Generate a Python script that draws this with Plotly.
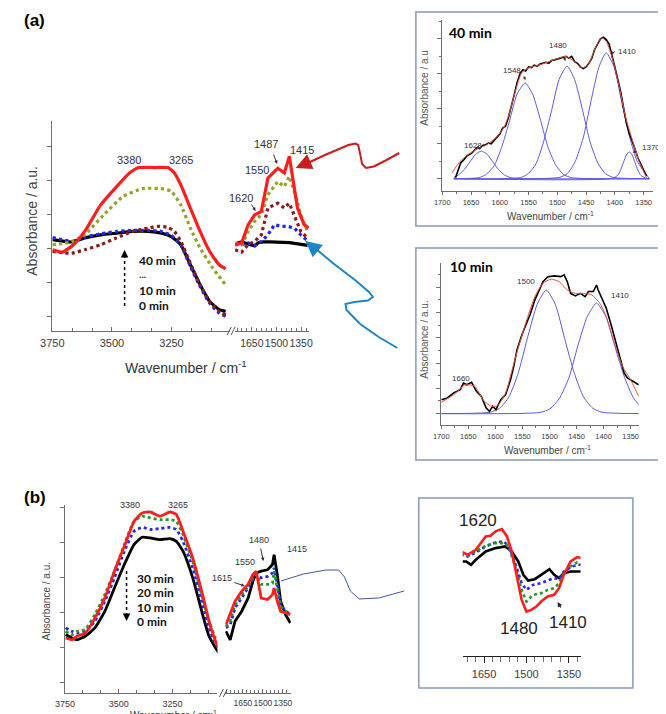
import plotly.graph_objects as go

W, H = 666, 714
def X(p): return p / W
def Y(p): return 1 - p / H

# ================= DATA =================
# ---- panel (a), high wavenumber segment ----
a_red_wn = [3749,3708,3661,3614,3547,3480,3426,3386,3319,3265,3238,3211,3171,3130,3090,3050,3023]
a_red_y  = [2.39,2.32,2.54,2.93,3.71,4.25,4.65,4.81,4.81,4.81,4.65,4.30,3.62,2.93,2.34,1.95,1.83]
a_olive_wn = [3749,3668,3614,3534,3453,3372,3292,3251,3211,3171,3130,3077,3023]
a_olive_y  = [2.54,2.62,2.83,3.42,3.96,4.19,4.19,4.11,3.71,3.03,2.44,1.85,1.36]
a_maroon_wn = [3749,3668,3614,3547,3480,3413,3346,3306,3265,3238,3211,3171,3130,3090,3050,3023]
a_maroon_y  = [2.34,2.29,2.39,2.54,2.74,2.93,3.03,3.08,3.05,2.93,2.64,2.00,1.36,0.87,0.58,0.48]
a_blue_wn = [3749,3668,3614,3547,3480,3413,3346,3292,3251,3211,3171,3130,3090,3050,3023]
a_blue_y  = [2.75,2.64,2.76,2.86,2.93,2.96,2.96,2.93,2.81,2.54,1.90,1.31,0.82,0.53,0.43]
a_black_wn = [3749,3668,3614,3547,3480,3413,3346,3292,3251,3211,3171,3130,3090,3050,3023]
a_black_y  = [2.69,2.62,2.74,2.83,2.88,2.93,2.93,2.88,2.78,2.54,1.95,1.36,0.87,0.63,0.58]

# ---- panel (a), low wavenumber segment ----
a2_red_wn = [1752,1712,1672,1632,1592,1552,1492,1452,1422,1402,1372,1332,1305]
a2_red_y  = [2.54,2.59,3.13,3.42,3.52,4.50,4.79,4.65,5.14,4.50,3.62,3.13,3.03]
a2_olive_wn = [1752,1712,1672,1632,1592,1552,1492,1452,1422,1392,1352,1312]
a2_olive_y  = [2.59,2.54,2.93,3.23,3.42,4.01,4.40,4.25,4.55,4.11,3.42,2.93]
a2_maroon_wn = [1752,1712,1672,1632,1592,1552,1492,1452,1422,1392,1352,1312]
a2_maroon_y  = [2.39,2.32,2.54,2.64,2.83,3.62,3.76,3.62,3.76,3.42,2.93,2.74]
a2_blue_wn = [1752,1712,1672,1632,1592,1552,1512,1472,1432,1392,1352,1312]
a2_blue_y  = [2.54,2.54,2.59,2.52,2.64,2.83,3.13,3.08,3.08,3.03,2.83,2.66]
a2_black_wn = [1752,1732,1712,1680,1650,1632,1610,1580,1540,1500,1460,1420,1380,1340,1310]
a2_black_y  = [2.54,2.60,2.62,2.58,2.52,2.50,2.60,2.62,2.62,2.62,2.60,2.60,2.57,2.55,2.52]

# ---- inset 40 min ----
i1_fit_wn = [1683,1669,1655,1641,1624,1607,1593,1584,1573,1562,1550,1528,1505,1485,1471,1457,1446,1434,1423,1415,1403,1392,1381,1369,1358,1345]
i1_fit_y  = [0.17,0.50,0.69,0.84,0.96,1.17,1.46,1.84,2.50,3.03,3.17,3.27,3.41,3.50,3.36,3.17,3.27,3.74,4.03,3.93,3.36,2.60,1.74,1.08,0.50,0.03]
i1_data_wn = [1677,1672,1668,1662,1657,1650,1645,1640,1635,1630,1625,1620,1615,1610,1605,1600,1595,1590,1585,1580,1575,1570,1565,1560,1555,1550,1545,1540,1535,1530,1525,1520,1515,1510,1505,1500,1495,1490,1485,1480,1475,1470,1465,1460,1455,1450,1445,1440,1435,1430,1425,1420,1415,1410,1405,1400,1395,1390,1385,1380,1375,1370,1365,1360,1355,1350,1345]
i1_data_y  = [0.03,0.25,0.45,0.55,0.66,0.72,0.80,0.88,0.86,0.95,0.97,1.02,1.00,1.10,1.20,1.28,1.45,1.50,1.75,2.05,2.40,2.75,3.00,3.12,3.08,3.20,3.18,3.25,3.22,3.28,3.30,3.33,3.30,3.38,3.40,3.42,3.45,3.48,3.50,3.45,3.50,3.35,3.30,3.20,3.15,3.20,3.30,3.45,3.70,3.85,4.00,4.05,3.98,3.85,3.55,3.20,2.85,2.50,2.05,1.60,1.30,1.10,0.85,0.60,0.40,0.25,0.08]
i1_c1628_wn = [1680,1672,1662,1652,1642,1632,1622,1612,1602,1592,1582,1572,1340]
i1_c1628_y  = [0.04,0.11,0.26,0.48,0.70,0.79,0.70,0.48,0.26,0.11,0.035,0.01,0.0]
i1_c1548_wn = [1680,1637,1624,1610,1597,1583,1570,1556,1543,1529,1516,1502,1489,1475,1340]
i1_c1548_y  = [0.0,0.03,0.12,0.37,0.89,1.66,2.42,2.74,2.42,1.66,0.89,0.37,0.12,0.03,0.0]
i1_c1480_wn = [1680,1564,1551,1537,1524,1510,1497,1483,1470,1456,1443,1429,1416,1402,1340]
i1_c1480_y  = [0.0,0.035,0.14,0.43,1.05,1.95,2.84,3.22,2.84,1.95,1.05,0.43,0.14,0.035,0.0]
i1_c1410_wn = [1680,1496,1482,1469,1455,1442,1428,1415,1401,1388,1374,1361,1347,1340]
i1_c1410_y  = [0.0,0.04,0.16,0.49,1.17,2.18,3.18,3.60,3.18,2.18,1.17,0.49,0.16,0.0]
i1_c1370_wn = [1680,1405,1395,1390,1385,1380,1375,1370,1365,1360,1355,1345,1340]
i1_c1370_y  = [0.0,0.01,0.10,0.25,0.47,0.68,0.77,0.68,0.47,0.25,0.10,0.01,0.0]

# ---- inset 10 min ----
i2_fit_wn = [1700,1677,1656,1638,1623,1608,1596,1581,1569,1557,1542,1527,1512,1497,1482,1467,1452,1437,1422,1407,1395,1380,1365,1350,1335,1328]
i2_fit_y  = [0.45,0.75,1.14,1.08,0.55,0.29,0.32,0.82,1.74,2.66,3.71,4.63,5.16,5.32,5.22,4.89,4.76,4.76,4.70,4.37,3.84,2.79,1.87,1.34,0.68,0.50]
i2_data_wn = [1700,1689,1677,1665,1659,1653,1644,1635,1626,1617,1611,1605,1599,1590,1581,1572,1566,1560,1551,1545,1536,1527,1518,1512,1503,1491,1479,1473,1467,1461,1452,1443,1434,1428,1419,1413,1410,1401,1395,1386,1380,1371,1362,1356,1350,1341,1335]
i2_data_y  = [0.55,0.62,0.82,0.95,1.21,1.14,1.24,0.88,0.68,0.22,0.09,0.29,0.16,0.55,0.75,1.34,1.87,2.53,3.12,3.45,3.91,4.50,4.96,5.22,5.42,5.45,5.42,5.49,5.22,4.76,4.66,4.76,4.63,4.83,4.83,5.09,4.89,4.43,4.17,3.51,3.05,2.39,1.61,1.41,1.34,1.21,1.14]
i2_c1500_wn = [1700,1610,1592,1575,1558,1541,1523,1506,1489,1472,1454,1437,1420,1403,1330]
i2_c1500_y  = [0.0,0.054,0.215,0.66,1.59,2.97,4.31,4.89,4.31,2.97,1.59,0.66,0.215,0.054,0.0]
i2_c1410_wn = [1700,1517,1499,1482,1464,1448,1430,1413,1396,1379,1361,1344,1330]
i2_c1410_y  = [0.0,0.048,0.19,0.59,1.42,2.65,3.85,4.37,3.85,2.65,1.42,0.59,0.26]

# ---- panel (b), high wavenumber segment ----
b_wn = [3747,3717,3694,3656,3611,3565,3520,3474,3429,3391,3353,3308,3262,3232,3201,3156,3110,3080,3050,3035]
b_red_y   = [1.57,1.52,1.62,1.71,2.14,2.71,3.48,4.19,4.90,5.14,5.17,5.05,5.17,5.10,4.62,3.86,2.81,2.05,1.48,1.29]
b_green_y = [1.76,1.67,1.76,1.81,2.24,2.81,3.48,4.24,4.90,5.05,5.00,4.95,4.95,4.90,4.52,3.76,2.71,2.05,1.57,1.48]
b_blue_y  = [1.86,1.76,1.71,1.76,2.05,2.62,3.29,4.05,4.62,4.73,4.67,4.70,4.73,4.67,4.33,3.57,2.52,1.86,1.38,1.29]
b_black_y = [1.67,1.57,1.52,1.62,1.86,2.33,3.00,3.67,4.24,4.45,4.43,4.38,4.41,4.33,4.05,3.29,2.24,1.62,1.29,1.14]

# ---- panel (b), low wavenumber segment ----
b2_wn = [1777,1745,1709,1660,1611,1575,1550,1513,1465,1428,1416,1392,1367,1330,1294]
b2_red_y   = [1.95,2.24,2.62,2.90,3.10,3.38,3.48,2.71,2.67,2.81,3.00,2.62,2.33,2.29,2.24]
b2_green_y = [1.90,2.05,2.52,2.81,3.05,3.29,3.40,3.10,3.10,3.14,3.48,3.00,2.48,2.33,2.29]
b2_blue_y  = [1.86,1.95,2.43,2.71,3.00,3.24,3.37,3.29,3.33,3.43,3.57,3.10,2.52,2.33,2.26]
b2_black_y = [1.76,1.52,2.05,2.33,2.71,3.19,3.43,3.48,3.52,3.67,3.95,3.38,2.62,2.24,2.00]

# ---- inset of panel (b) ----
i3_red_wn = [1731,1708,1679,1644,1627,1609,1587,1569,1552,1535,1517,1500,1483,1465,1448,1425,1402,1385,1368,1344,1321,1309]
i3_red_y  = [3.25,3.15,3.30,3.70,3.72,3.85,3.92,3.70,3.25,2.50,1.80,1.45,1.50,1.60,1.75,1.90,1.95,2.15,2.55,2.95,3.08,3.05]
i3_green_wn = [1731,1708,1679,1644,1609,1580,1563,1540,1517,1500,1477,1448,1425,1402,1385,1368,1344,1321,1309]
i3_green_y  = [3.15,3.12,3.25,3.42,3.50,3.50,3.40,2.80,2.10,1.75,1.95,2.00,2.10,2.15,2.30,2.60,2.80,2.92,2.90]
i3_blue_wn = [1731,1708,1679,1644,1609,1580,1563,1540,1517,1500,1477,1448,1425,1402,1385,1368,1344,1321,1309]
i3_blue_y  = [3.20,3.10,3.22,3.40,3.52,3.55,3.40,2.90,2.30,2.10,2.25,2.30,2.38,2.45,2.42,2.65,2.78,2.85,2.85]
i3_black_wn = [1731,1713,1696,1679,1644,1609,1575,1552,1529,1511,1494,1471,1448,1419,1402,1385,1368,1344,1321,1309]
i3_black_y  = [2.95,2.95,2.85,3.00,3.25,3.35,3.40,3.25,2.95,2.55,2.38,2.42,2.55,2.72,2.55,2.45,2.60,2.65,2.65,2.65]

# ================= STYLES =================
RED = "#FF1E1E"; OLIVE = "#97A22E"; MAROON = "#8E1B1B"; BLUE = "#2626E6"; BLACK = "#000000"
GREEN = "#1F9A2A"; COMP = "#5A5AE6"; FITRED = "#E8503A"
AX = "#6E6E6E"
FONT = "Liberation Sans"

fig = go.Figure()

def line(x, y, xa, ya, color, width, dash="solid", shape="spline", smooth=0.6):
    fig.add_trace(go.Scatter(x=x, y=y, xaxis=xa, yaxis=ya, mode="lines",
                             line=dict(color=color, width=width, dash=dash, shape=shape,
                                       smoothing=smooth if shape == "spline" else None),
                             showlegend=False, hoverinfo="skip"))

# panel (a)
for xa, pairs in (("x", [(a_black_wn, a_black_y, BLACK, "solid"), (a_blue_wn, a_blue_y, BLUE, "dot"),
                          (a_maroon_wn, a_maroon_y, MAROON, "dot"), (a_olive_wn, a_olive_y, OLIVE, "dot"),
                          (a_red_wn, a_red_y, RED, "solid")]),
                  ("x2", [(a2_black_wn, a2_black_y, BLACK, "solid"), (a2_blue_wn, a2_blue_y, BLUE, "dot"),
                          (a2_maroon_wn, a2_maroon_y, MAROON, "dot"), (a2_olive_wn, a2_olive_y, OLIVE, "dot"),
                          (a2_red_wn, a2_red_y, RED, "solid")])):
    for xs, ys, c, d in pairs:
        line(xs, ys, xa, "y", c, 3.2, d, shape="linear" if xa == "x2" else "spline", smooth=0.5)

# inset 1
for xs, ys in ((i1_c1628_wn, i1_c1628_y), (i1_c1548_wn, i1_c1548_y), (i1_c1480_wn, i1_c1480_y),
               (i1_c1410_wn, i1_c1410_y), (i1_c1370_wn, i1_c1370_y)):
    line(xs, ys, "x3", "y3", COMP, 1.0)
line(i1_data_wn, i1_data_y, "x3", "y3", BLACK, 1.6, shape="linear")
line(i1_fit_wn, i1_fit_y, "x3", "y3", FITRED, 1.0)

# inset 2
for xs, ys in ((i2_c1500_wn, i2_c1500_y), (i2_c1410_wn, i2_c1410_y)):
    line(xs, ys, "x4", "y4", COMP, 1.0)
line(i2_data_wn, i2_data_y, "x4", "y4", BLACK, 1.6, shape="linear")
line(i2_fit_wn, i2_fit_y, "x4", "y4", FITRED, 1.0)

# panel (b)
for ys, c, d in ((b_black_y, BLACK, "solid"), (b_blue_y, BLUE, "dot"), (b_green_y, GREEN, "dot"), (b_red_y, RED, "solid")):
    line(b_wn, ys, "x5", "y5", c, 2.8, d, smooth=0.5)
for ys, c, d in ((b2_black_y, BLACK, "solid"), (b2_blue_y, BLUE, "dot"), (b2_green_y, GREEN, "dot"), (b2_red_y, RED, "solid")):
    line(b2_wn, ys, "x6", "y5", c, 2.8, d, shape="linear")

# inset 3
for xs, ys, c, d in ((i3_black_wn, i3_black_y, BLACK, "solid"), (i3_blue_wn, i3_blue_y, BLUE, "dot"),
                     (i3_green_wn, i3_green_y, GREEN, "dot"), (i3_red_wn, i3_red_y, RED, "solid")):
    line(xs, ys, "x7", "y7", c, 2.6, d, shape="linear")

# ================= AXES =================
def xax(dom, rng, anchor, tickvals, size, minor_dt, tick0, ticks="inside", showlabels=True, ticklen=4, standoff=2):
    return dict(domain=[X(dom[0]), X(dom[1])], range=rng, anchor=anchor, showline=True, linecolor=AX,
                linewidth=1, ticks=ticks, ticklen=ticklen, tickcolor=AX, tickvals=tickvals,
                ticktext=[str(v) for v in tickvals], showticklabels=showlabels, tickangle=0,
                tickfont=dict(family=FONT, size=size, color="#3A3A3A"), showgrid=False, zeroline=False,
                minor=dict(ticks=ticks, ticklen=max(ticklen - 1, 2), tickcolor=AX, dtick=minor_dt, tick0=tick0,
                           showgrid=False),
                ticklabelstandoff=standoff)

def yax(dom, rng, anchor, tick0, dtick, minor_dt=None, visible=True):
    d = dict(domain=[Y(dom[1]), Y(dom[0])], range=rng, anchor=anchor, showline=visible, linecolor=AX,
             linewidth=1, ticks="outside" if visible else "", ticklen=4, tickcolor=AX, tick0=tick0,
             dtick=dtick, showticklabels=False, showgrid=False, zeroline=False, visible=visible)
    if minor_dt:
        d["minor"] = dict(ticks="outside", ticklen=2, tickcolor=AX, dtick=minor_dt, tick0=tick0, showgrid=False)
    return d

fig.update_layout(
    xaxis=xax((33, 215), [3750, 3004], "y", [3750, 3500, 3250], 11, 250/3, 3750),
    xaxis2=xax((220, 296), [1752, 1300], "y", [1650, 1500, 1350], 10.5, 30, 1650),
    yaxis=yax((113, 323), [0, 6.18], "x", 0.44, 1),
    xaxis3=xax((432, 648), [1700, 1333], "y3", [1700, 1650, 1600, 1550, 1500, 1450, 1400, 1350], 7.5, 25, 1700,
               ticks="outside", ticklen=3, standoff=1),
    yaxis3=yax((12, 183), [-0.35, 4.54], "x3", 0, 1, 0.5),
    xaxis4=xax((431, 633), [1700, 1335], "y4", [1700, 1650, 1600, 1550, 1500, 1450, 1400, 1350], 7.5, 25, 1700,
               ticks="outside", ticklen=3, standoff=1),
    yaxis4=yax((255, 417), [-0.45, 5.96], "x4", 0, 1, 0.5),
    xaxis5=xax((46, 202), [3750, 3041], "y5", [3750, 3500, 3250], 9, 250/3, 3750),
    xaxis6=xax((210, 277), [1782, 1291], "y5", [1650, 1500, 1350], 8.5, 30, 1650),
    yaxis5=yax((497, 685), [0, 5.37], "x5", 0.3, 1),
    xaxis7=xax((453, 574), [1725, 1307], "y7", [1650, 1500, 1350], 11, 30, 1650, ticks="outside", ticklen=6),
    yaxis7=yax((495, 648), [0.12, 4.7], "x7", 0, 1, visible=False),
)
fig.layout.xaxis7.tickcolor = "#222"
fig.layout.xaxis7.linecolor = "#222"

# ================= ANNOTATIONS =================
anns = []
def txt(t, x, y, size, color="#333", bold=False, family=FONT, angle=0, xanchor="center"):
    anns.append(dict(text=("<b>%s</b>" % t) if bold else t, x=X(x), y=Y(y), xref="paper", yref="paper",
                     showarrow=False, xanchor=xanchor, yanchor="middle", textangle=angle,
                     font=dict(family=family, size=size, color=color)))

def arr(x, y, ax, ay, color="#333", width=1, size=0.8, head=2):
    anns.append(dict(text="", x=X(x), y=Y(y), xref="paper", yref="paper", ax=ax, ay=ay,
                     axref="pixel", ayref="pixel", showarrow=True, arrowhead=head, arrowsize=size,
                     arrowwidth=width, arrowcolor=color, standoff=0))

# panel labels
txt("(a)", 15, 12, 17, "#000", True, "Liberation Sans")
txt("(b)", 15, 489, 17, "#000", True, "Liberation Sans")

# panel (a) texts
txt("Absorbance / a.u.", 12, 213, 14, "#444", angle=-90)
txt("Wavenumber / cm<sup>-1</sup>", 170, 359, 14, "#333")
txt("3380", 112, 152, 11); txt("3265", 165, 152, 11)
txt("1487", 252, 136, 11); txt("1415", 288, 142, 11)
txt("1550", 242, 162, 11); txt("1620", 226, 190, 11)
arr(263, 156, -4, -11, "#333", 1, 0.7)
arr(241, 203, -5, -8, "#333", 1, 0.7)
for t, yy, s in (("40 min", 252, 12), ("...", 266, 10), ("10 min", 283, 12), ("0 min", 297, 12)):
    txt(t, 120, yy, s, "#111", True, "Lato", xanchor="left")
arr(107, 242, 0, 9, "#000", 1.5, 1.0)

# panel (b) texts
txt("Absorbance / a.u.", 27, 593, 10, "#444", angle=-90)
txt("Wavenumber / cm<sup>-1</sup>", 157, 707, 10, "#333")
txt("3380", 113, 497, 9); txt("3265", 162, 497, 9)
txt("1480", 245, 532, 9); txt("1415", 283, 541, 9)
txt("1550", 230, 554, 9); txt("1615", 207, 570, 9)
arr(249, 553, -3, -14, "#333", 1, 0.7)
arr(230, 578, -12, -4, "#333", 1, 0.7)
for t, yy in (("30 min", 570), ("20 min", 584), ("10 min", 599), ("0 min", 613)):
    txt(t, 118, yy, 12, "#111", True, "Lato", xanchor="left")
arr(109, 613, 0, -9, "#000", 1.5, 1.0)

# inset 1 texts
txt("40 min", 437, 25, 14, "#000", True, "Lato", xanchor="left")
txt("Absorbance / a.u", 413, 80, 10, "#555", angle=-90)
txt("Wavenumber / cm<sup>-1</sup>", 543, 208, 10, "#444")
txt("1628", 463, 137, 8); txt("1548", 503, 62, 8); txt("1480", 550, 37, 8)
txt("1410", 621, 43, 8); txt("1370", 646, 140, 8)
arr(470, 141, -3, -4, "#333", 1, 0.6); arr(517, 72, -2, -5, "#333", 1, 0.6)
arr(558, 53, -2, -5, "#333", 1, 0.6); arr(604, 46, 6, -3, "#333", 1, 0.6)
arr(627, 145, 4, -3, "#333", 1, 0.6)

# inset 2 texts
txt("10 min", 438, 258, 14, "#000", True, "Lato", xanchor="left")
txt("Absorbance / a.u.", 413, 332, 10, "#555", angle=-90)
txt("Wavenumber / cm<sup>-1</sup>", 540, 442, 10, "#444")
txt("1660", 451, 370, 8); txt("1500", 518, 273, 8); txt("1410", 614, 287, 8)

# inset 3 texts
txt("1620", 469, 512, 17, "#222")
txt("1480", 511, 620, 17, "#222")
txt("1410", 561, 614, 17, "#222")
arr(550, 594, 4, 7, "#222", 1.2, 0.8)

# arrowheads of the coloured pointer lines
arr(282, 160, 15, -6.5, "#C81E1E", 2, 1.6)
arr(292, 233, 14, 11.5, "#1E86C8", 2, 1.6)

fig.update_layout(annotations=anns)

# ================= SHAPES =================
def path(pts):
    s = "M %f,%f" % (X(pts[0][0]), Y(pts[0][1]))
    for p in pts[1:]:
        s += " L %f,%f" % (X(p[0]), Y(p[1]))
    return s

shapes = []
def rect(x0, y0, x1, y1):
    shapes.append(dict(type="rect", xref="paper", yref="paper", x0=X(x0), x1=X(x1), y0=Y(y1), y1=Y(y0),
                       line=dict(color="#8799BC", width=1.5)))
rect(405, 4, 664, 218)
rect(405, 240, 664, 452)
rect(408, 490, 627, 680)

def poly(pts, color, width, dash="solid"):
    shapes.append(dict(type="path", xref="paper", yref="paper", path=path(pts),
                       line=dict(color=color, width=width, dash=dash)))

# red pointer
poly([(290, 157), (312, 147), (336, 137), (343, 135.5), (346, 137), (348, 146), (350, 156), (354, 160),
      (362, 158.5), (375, 152), (388, 145)], "#C81E1E", 2)
# blue pointer
poly([(298, 237), (320, 255), (344, 273), (357, 284), (361, 289), (356, 292.5), (342, 294), (333, 296),
      (334, 302), (348, 316), (367, 329), (386, 340)], "#1E86C8", 2)
# thin blue link in (b)
poly([(267, 573), (290, 566), (313, 562), (326, 562), (332, 569), (338, 583), (347, 591), (367, 590), (393, 583)],
     "#3B5A98", 1)
# time arrows shafts
poly([(107, 298), (107, 248)], "#000", 1.5, "dot")
poly([(109, 563), (109, 607)], "#000", 1.5, "dot")
# axis breaks
for x0 in (212, 216):
    poly([(x0, 327), (x0 + 4, 319)], "#555", 1)
for x0 in (204, 208):
    poly([(x0, 689), (x0 + 4, 681)], "#555", 1)
fig.update_layout(shapes=shapes)

fig.update_layout(width=W, height=H, margin=dict(l=0, r=0, t=0, b=0), paper_bgcolor="white",
                  plot_bgcolor="white", showlegend=False, font=dict(family=FONT))
fig.write_html("out.html")
